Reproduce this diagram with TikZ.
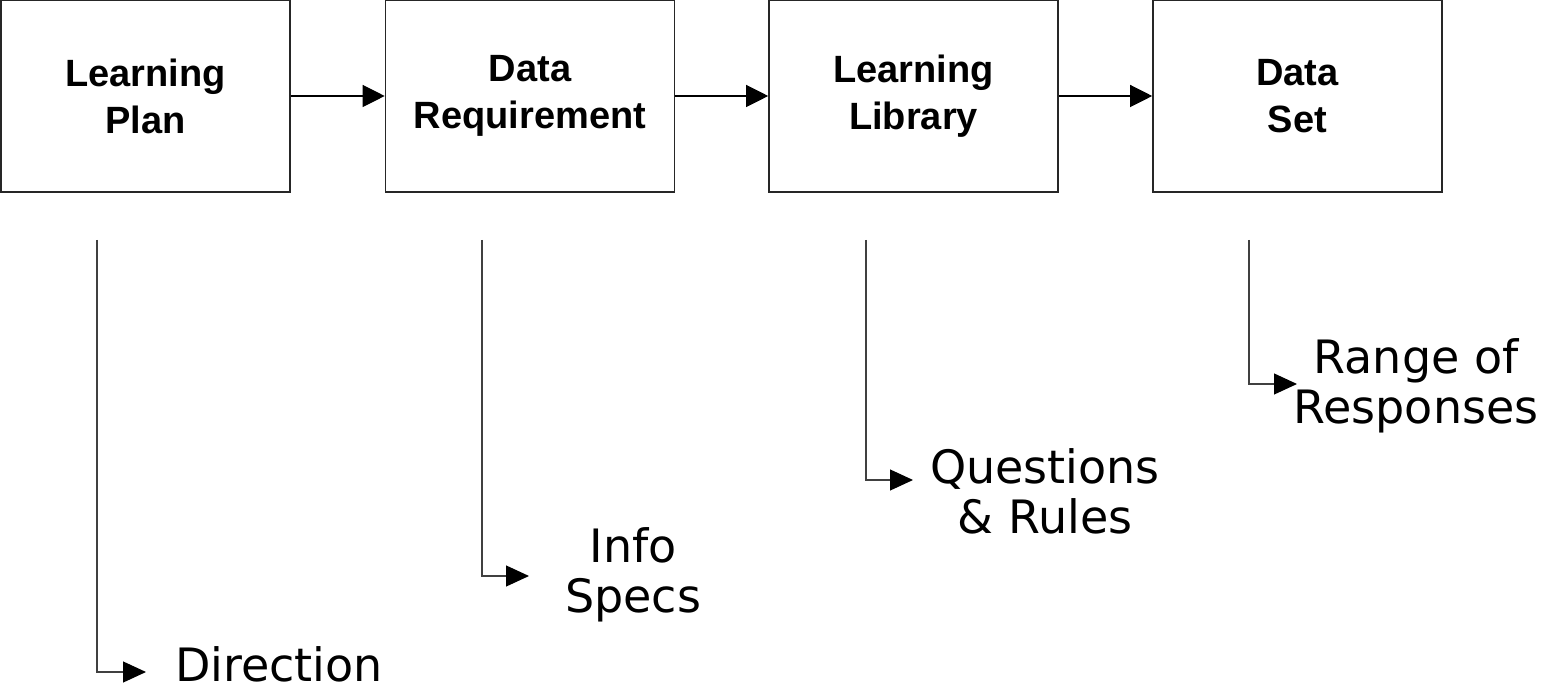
\documentclass[tikz,border=0pt]{standalone}
\usepackage{fontspec}
\setmainfont{Liberation Sans}
\newfontfamily\notefont{DejaVu Sans}
\usetikzlibrary{arrows.meta}

\tikzset{
  stagebox/.style={draw=black!85, line width=1.6pt, fill=white,
    minimum width=289pt, minimum height=192pt, inner sep=0pt,
    align=center, font=\fontsize{38}{47}\selectfont\bfseries},
  flow/.style={line width=1.2pt, -{Triangle[length=22pt,width=22pt]}},
  branch/.style={line width=1.2pt, black!75, -{Triangle[length=23pt,width=21pt,color=black]}},
  note/.style={inner sep=0pt, align=center, font=\notefont\fontsize{46}{50}\selectfont}
}

\begin{document}
\begin{tikzpicture}[x=1pt,y=-1pt]
  \useasboundingbox (0,0) rectangle (1543,692);

  % stages of the process
  \node[stagebox] (plan) at (145.5,96)  {Learning\\Plan};
  \node[stagebox] (req)  at (530,96)    {Data\\Requirement};
  \node[stagebox] (lib)  at (913.5,96)  {Learning\\Library};
  \node[stagebox] (set)  at (1297.5,96) {Data\\Set};

  \draw[flow] (plan.east) -- (req.west);
  \draw[flow] (req.east)  -- (lib.west);
  \draw[flow] (lib.east)  -- (set.west);

  % what each stage yields
  \coordinate (s1) at (97,240);
  \coordinate (s2) at (482,240);
  \coordinate (s3) at (866,240);
  \coordinate (s4) at (1249,240);

  \coordinate (t1) at (146,672);
  \coordinate (t2) at (529,576);
  \coordinate (t3) at (913,480);
  \coordinate (t4) at (1297,384);

  \draw[branch] (s1) |- (t1);
  \draw[branch] (s2) |- (t2);
  \draw[branch] (s3) |- (t3);
  \draw[branch] (s4) |- (t4);

  \node[note] (o1) at (279,664)  {Direction};
  \node[note] (o2) at (633,575)  {Info\\Specs};
  \node[note] (o3) at (1045,491) {Questions\\\& Rules};
  \node[note] (o4) at (1416,386) {Range of\\Responses};
\end{tikzpicture}
\end{document}
